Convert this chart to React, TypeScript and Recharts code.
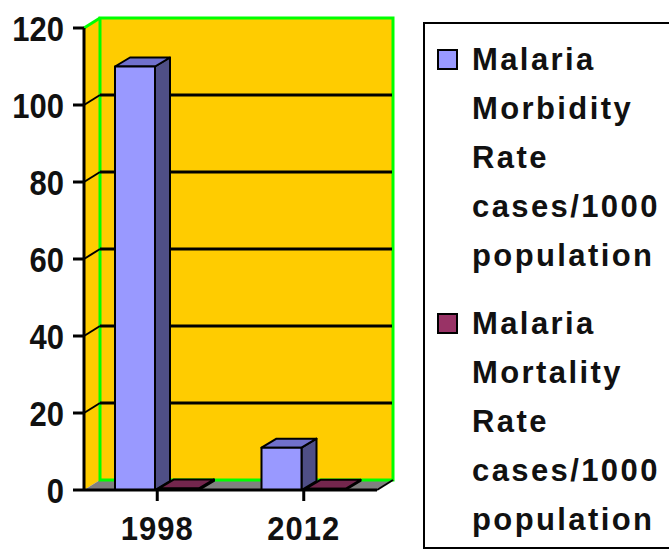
import React from "react"
import { Bar, BarChart, CartesianGrid, XAxis, YAxis } from "recharts"

const years = ["1998", "2012"]
const morbidityRate = [110, 11]
const mortalityRate = [0.4, 0.3]
const yTicks = [0, 20, 40, 60, 80, 100, 120]
const seriesLabels = [
  ["Malaria", "Morbidity", "Rate", "cases/1000", "population"],
  ["Malaria", "Mortality", "Rate", "cases/1000", "population"],
]

const data = years.map((year, i) => ({
  year,
  morbidity: morbidityRate[i],
  mortality: mortalityRate[i],
}))

// layout
const W = 669
const H = 550
const LEFT = 84
const TOP = 28
const RIGHT_MARGIN = 292
const X_AXIS_H = 60
const BOTTOM = H - X_AXIS_H
const RIGHT = W - RIGHT_MARGIN
const DX = 16
const DY = -10
const BAR_DX = 15
const BAR_DY = -9

const FONT = "'Liberation Sans', Arial, sans-serif"
const WALL = "#FFCC00"
const GREEN = "#00FF00"
const TEXT = "#111"

const colors = {
  morbidity: { front: "#9999FF", top: "#7070CC", side: "#4F4F86" },
  mortality: { front: "#993366", top: "#73264D", side: "#4D1A33" },
}

// back wall, side wall and floor sit under the chart svg
const Walls = () => (
  <svg width={W} height={H} style={{ position: "absolute", left: 0, top: 0 }}>
    <polygon
      points={`${LEFT},${TOP} ${LEFT + DX},${TOP + DY} ${LEFT + DX},${BOTTOM + DY} ${LEFT},${BOTTOM}`}
      fill={WALL}
    />
    <rect x={LEFT + DX} y={TOP + DY} width={RIGHT - LEFT} height={BOTTOM - TOP} fill={WALL} />
    <polygon
      points={`${LEFT},${BOTTOM} ${LEFT + DX},${BOTTOM + DY} ${RIGHT + DX},${BOTTOM + DY} ${RIGHT},${BOTTOM}`}
      fill="#808080"
    />
    <rect
      x={LEFT + DX}
      y={TOP + DY}
      width={RIGHT - LEFT}
      height={BOTTOM - TOP}
      fill="none"
      stroke={GREEN}
      strokeWidth={3}
    />
    <line x1={LEFT} y1={TOP} x2={LEFT + DX} y2={TOP + DY} stroke={GREEN} strokeWidth={3} />
    <line x1={RIGHT} y1={BOTTOM} x2={RIGHT + DX} y2={BOTTOM + DY} stroke="#000" strokeWidth={2} />
  </svg>
)

const gridLine = (props: any) => {
  const { x1, y1, x2 } = props
  if (Math.abs(y1 - BOTTOM) < 1 || Math.abs(y1 - TOP) < 1) {
    return <g key={props.key} />
  }
  return (
    <g key={props.key}>
      <line x1={x1} y1={y1} x2={x1 + DX} y2={y1 + DY} stroke="#000" strokeWidth={2} />
      <line x1={x1 + DX} y1={y1 + DY} x2={x2 + DX - 1} y2={y1 + DY} stroke="#000" strokeWidth={3} />
    </g>
  )
}

const makeBox = (c: { front: string; top: string; side: string }) => (props: any) => {
  const { x, y, width: w, height: h } = props
  if (x == null || y == null) return null
  return (
    <g stroke="#000" strokeWidth={2} strokeLinejoin="round">
      <polygon
        points={`${x + w},${y} ${x + w + BAR_DX},${y + BAR_DY} ${x + w + BAR_DX},${y + h + BAR_DY} ${x + w},${y + h}`}
        fill={c.side}
      />
      <polygon
        points={`${x},${y} ${x + BAR_DX},${y + BAR_DY} ${x + w + BAR_DX},${y + BAR_DY} ${x + w},${y}`}
        fill={c.top}
      />
      <rect x={x} y={y} width={w} height={Math.max(h, 0.5)} fill={c.front} />
    </g>
  )
}

// tick text is a little taller than wide in the source, so stretch it
const YTick = (props: any) => {
  const { x, y, payload } = props
  return (
    <text
      transform={`translate(${x},${y}) scale(1,1.15)`}
      textAnchor="end"
      dy="0.36em"
      fill={TEXT}
      fontSize={31}
      fontWeight="bold"
      fontFamily={FONT}
    >
      {payload.value}
    </text>
  )
}

const XTick = (props: any) => {
  const { x, y, payload } = props
  return (
    <text
      transform={`translate(${x},${y}) scale(1,1.1)`}
      textAnchor="middle"
      dy="0.71em"
      fill={TEXT}
      fontSize={31}
      fontWeight="bold"
      fontFamily={FONT}
      letterSpacing={1}
    >
      {payload.value}
    </text>
  )
}

const Legend3D = () => (
  <div
    style={{
      position: "absolute",
      left: 423,
      top: 22,
      width: 270,
      height: 527,
      boxSizing: "border-box",
      border: "2px solid #000",
      background: "#fff",
      fontFamily: FONT,
      fontWeight: "bold",
      fontSize: 31,
      letterSpacing: 2.4,
      lineHeight: "49px",
      color: TEXT,
      paddingTop: 11,
      paddingLeft: 12,
    }}
  >
    {seriesLabels.map((lines, i) => {
      const c = i === 0 ? colors.morbidity : colors.mortality
      return (
        <div key={i} style={{ display: "flex", marginTop: i === 0 ? 0 : 19 }}>
          <div
            style={{
              width: 21,
              height: 21,
              boxSizing: "border-box",
              border: "2px solid #000",
              background: c.front,
              marginTop: 14,
              marginRight: 14,
              flexShrink: 0,
            }}
          />
          <div>
            {lines.map((t, j) => (
              <div key={j} style={{ whiteSpace: "nowrap" }}>
                {t}
              </div>
            ))}
          </div>
        </div>
      )
    })}
  </div>
)

export default function App() {
  return (
    <div
      style={{
        position: "absolute",
        left: 0,
        top: 0,
        width: W,
        height: H,
        overflow: "hidden",
        background: "#fff",
      }}
    >
      <Walls />
      <div style={{ position: "absolute", left: 0, top: 0 }}>
        <BarChart
          width={W}
          height={H}
          data={data}
          margin={{ top: TOP, right: RIGHT_MARGIN, bottom: 0, left: 0 }}
          barSize={40}
          barGap={4}
        >
          <CartesianGrid vertical={false} horizontal={gridLine} stroke="#000" />
          <XAxis
            dataKey="year"
            height={X_AXIS_H}
            axisLine={{ stroke: "#000", strokeWidth: 3 }}
            tickLine={{ stroke: "#000", strokeWidth: 3 }}
            tickSize={11}
            tickMargin={15}
            tick={<XTick />}
          />
          <YAxis
            width={LEFT}
            domain={[0, 120]}
            ticks={yTicks}
            interval={0}
            axisLine={{ stroke: "#000", strokeWidth: 3 }}
            tickLine={{ stroke: "#000", strokeWidth: 3 }}
            tickSize={11}
            tickMargin={9}
            tick={<YTick />}
          />
          <Bar dataKey="morbidity" shape={makeBox(colors.morbidity)} isAnimationActive={false} />
          <Bar dataKey="mortality" shape={makeBox(colors.mortality)} isAnimationActive={false} />
        </BarChart>
      </div>
      <Legend3D />
    </div>
  )
}
